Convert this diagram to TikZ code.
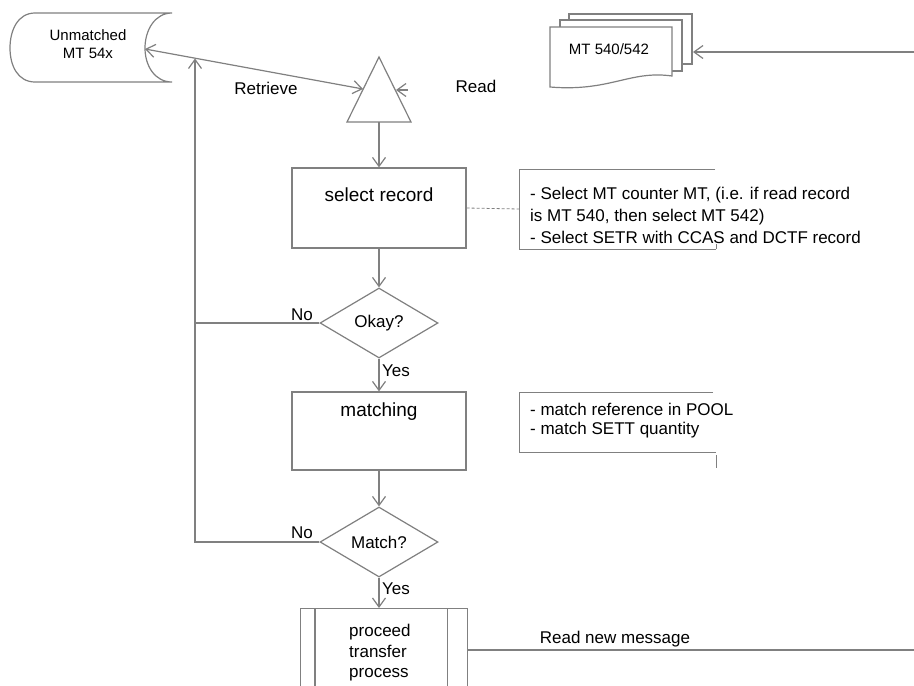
\documentclass[tikz,border=0pt]{standalone}
\usepackage{fontspec}
\setmainfont{Liberation Sans}
\usetikzlibrary{arrows.meta,shapes.geometric}
\definecolor{lncol}{HTML}{808080}
\begin{document}
\begin{tikzpicture}[x=1pt,y=-1pt]
\tikzset{
 ln/.style={draw=lncol, line width=1.2pt},
 tip/.style={},
 arr/.style={ln, -{Straight Barb[length=9pt,width=13pt,line width=1.2pt]}},
 twoarr/.style={ln, {Straight Barb[length=9pt,width=13pt,line width=1.2pt]}-{Straight Barb[length=9pt,width=13pt,line width=1.2pt]}},
 lbl/.style={font=\fontsize{17}{20}\selectfont, inner sep=0pt, text=black},
 small/.style={font=\fontsize{15}{18}\selectfont, inner sep=0pt, align=center, text=black},
 title/.style={font=\fontsize{19}{22}\selectfont, inner sep=0pt, text=black},
 box/.style={ln, fill=white, rectangle, minimum width=174pt, inner sep=0pt},
 dec/.style={ln, fill=white, diamond, aspect=1.686, minimum width=118pt, minimum height=70pt, inner sep=0pt, font=\fontsize{17}{20}\selectfont, text=black},
 anno/.style={ln, line width=1pt},
}
\useasboundingbox (0,0) rectangle (914,686);
\clip (0,0) rectangle (914,686);
\fill[white] (0,0) rectangle (914,686);

% stored data
\draw[ln] (172,13) -- (35,13) .. controls (18,13) and (10,30) .. (10,48) .. controls (10,66) and (18,82) .. (35,82) -- (172,82) .. controls (155,82) and (145,66) .. (145,48) .. controls (145,30) and (155,13) .. (172,13);
\node[small] (unm) at (88,44) {Unmatched\\MT 54x};
\coordinate (unmR) at (145,49);

% merge triangle
\coordinate (triA) at (379,57);
\coordinate (triBL) at (347,122);
\coordinate (triBR) at (411,122);
\draw[ln] (triA) -- (triBL) -- (triBR) -- cycle;
\coordinate (triB) at (379,122);
\coordinate (triL) at (363,89);
\coordinate (triR) at (396,90);
\coordinate (readS) at (408,90);
\draw[twoarr] (unmR) -- (triL);
\draw[arr] (readS) -- (triR);
\node[lbl] (retr) at (266,88) {Retrieve};
\node[lbl] (read) at (476,86) {Read};

% multi document
\draw[ln, fill=white] (569,14) rectangle (692,64);
\draw[ln, fill=white] (560,20) rectangle (682,71);
\draw[ln, fill=white] (550,27) -- (672,27) -- (672,76) .. controls (630,70) and (610,92) .. (550,87) -- cycle;
\node[small] (doc) at (609,49) {MT 540/542};
\coordinate (docR) at (693,52);
\coordinate (eR1) at (914,52);
\draw[arr] (eR1) -- (docR);

% boxes
\node[box, minimum height=80pt] (sel) at (379,208) {};
\node[title] (selT) at (379,195) {select record};
\node[box, minimum height=78pt] (mat) at (379,431) {};
\node[title] (matT) at (379,412) {matching};

% decisions
\node[dec] (ok) at (379,323) {Okay?};
\node[dec] (mt) at (379,542) {Match?};

% predefined process
\node[box, minimum width=167pt, minimum height=112pt, anchor=north west] (proc) at (300,608) {};
\draw[ln] ([xshift=15pt]proc.north west) -- ([xshift=15pt]proc.south west);
\draw[ln] ([xshift=-21pt]proc.north east) -- ([xshift=-21pt]proc.south east);
\node[lbl, align=left, anchor=west, font=\fontsize{17}{20.5}\selectfont] (procT) at (349,653) {proceed\\transfer\\process};
\coordinate (eR2) at (914,650);
\draw[ln] (proc.east |- eR2) -- (eR2);
\node[lbl] (rnm) at (615,639) {Read new message};

% flow arrows
\draw[arr] (triB) -- (sel.north);
\draw[arr] (sel.south) -- (ok.north);
\draw[arr] (ok.south) -- (mat.north);
\draw[arr] (mat.south) -- (mt.north);
\draw[arr] (mt.south) -- (mt.south |- proc.north);

% loop back
\coordinate (lpB) at (195,542);
\coordinate (lpT) at (195,58.5);
\draw[arr] (mt.west) -- (lpB) -- (lpT);
\draw[ln] (ok.west) -- (ok.west -| lpB);
\node[lbl] (no1) at (302,315) {No};
\node[lbl] (no2) at (302,533) {No};
\node[lbl] (yes1) at (396,371) {Yes};
\node[lbl] (yes2) at (396,589) {Yes};

% annotations
\coordinate (an1) at (519,209);
\draw[anno] (715,169) -- (519,169) -- (519,249) -- (716,249);
\draw[anno] (716,244) -- (716,249);
\draw[ln, line width=0.8pt, dash pattern=on 3pt off 2pt] (sel.east) -- (an1);
\node[lbl, align=left, anchor=west, font=\fontsize{17}{22}\selectfont] (an1T) at (530,215) {- Select MT counter MT, (i.e. if read record\\is MT 540, then select MT 542)\\- Select SETR with CCAS and DCTF record};
\draw[anno] (713,392) -- (519,392) -- (519,452) -- (716,452);
\draw[anno] (716,455) -- (716,468);
\node[lbl, align=left, anchor=west, font=\fontsize{17}{19}\selectfont] (an2T) at (530,421) {- match reference in POOL\\- match SETT quantity};
\end{tikzpicture}
\end{document}
